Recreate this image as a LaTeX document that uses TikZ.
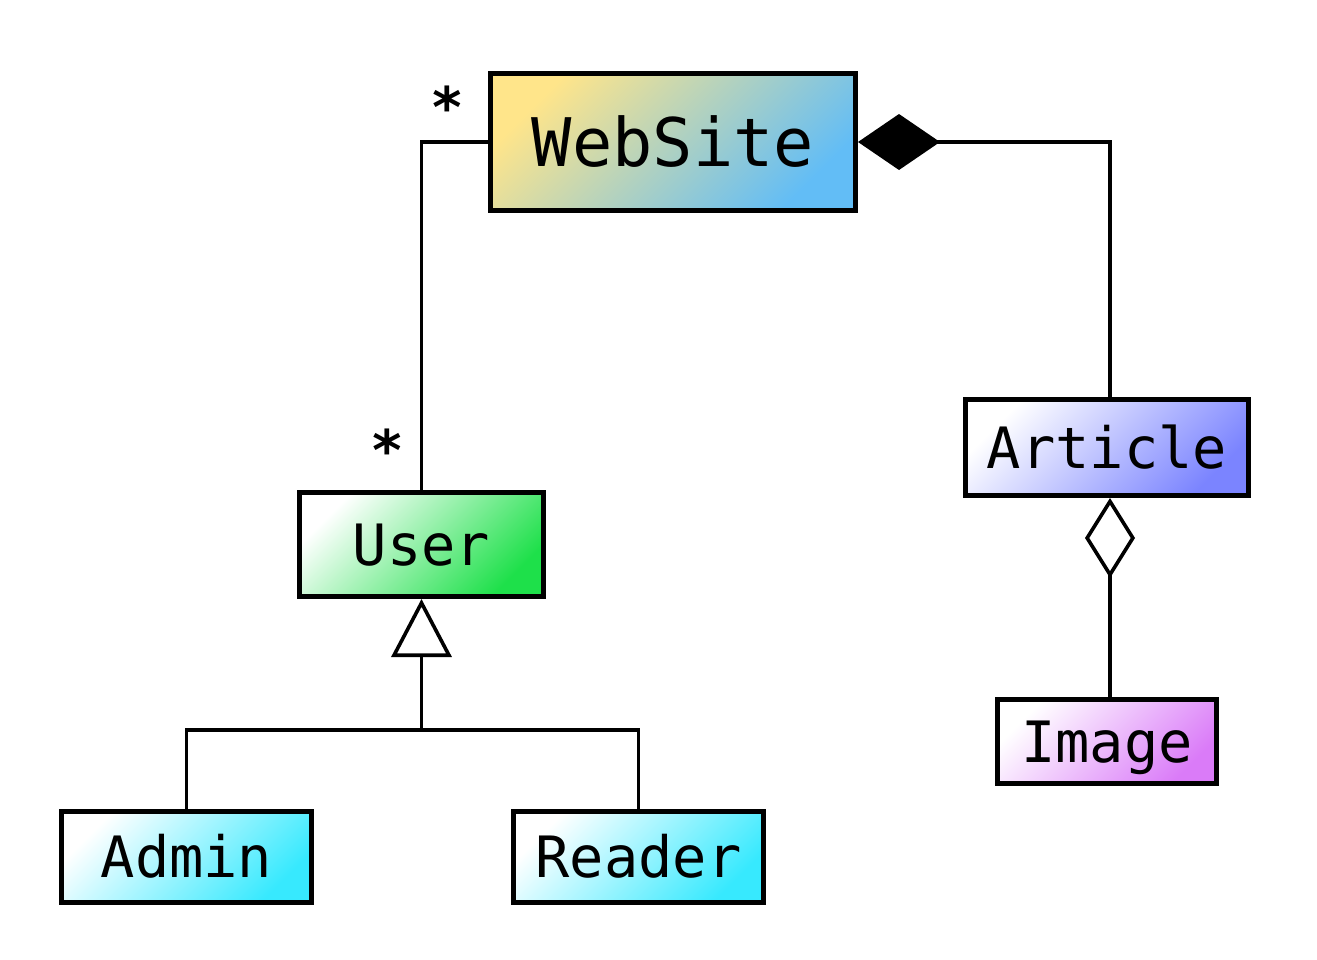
\documentclass[tikz,border=0pt]{standalone}
\usepackage{fontspec}
\newfontfamily\dvm{DejaVu Sans Mono}
\usetikzlibrary{arrows.meta}
\definecolor{wsA}{HTML}{FFE58A}
\definecolor{wsB}{HTML}{62BDF6}
\definecolor{usB}{HTML}{1EE04A}
\definecolor{arB}{HTML}{7B84FF}
\definecolor{imB}{HTML}{DA7BF8}
\definecolor{cyB}{HTML}{37E9FE}
\tikzset{
  cls/.style={draw=black, line width=5pt, inner sep=0pt, text height=41.6pt, text depth=0pt,
    font=\dvm\fontsize{57}{68}\selectfont},
  grad/.style 2 args={top color=#1, bottom color=#2, shading angle=45},
  conn/.style={line width=3.6pt, draw=black},
  mult/.style={font=\dvm\bfseries\fontsize{56}{68}\selectfont, inner sep=0pt},
}
\begin{document}
\begin{tikzpicture}[x=1pt,y=-1pt]
\useasboundingbox (0,0) rectangle (1317,959);
\node[cls, grad={wsA}{wsB}, minimum width=365pt, minimum height=137pt,
  font=\dvm\fontsize{67}{80}\selectfont, text height=49pt] (web) at (673,142) {WebSite};
\node[cls, grad={white}{usB}, minimum width=244pt, minimum height=104pt] (user) at (421.5,544.5) {User};
\node[cls, grad={white}{arB}, minimum width=283pt, minimum height=96pt] (art) at (1107,447.5) {Article};
\node[cls, grad={white}{imB}, minimum width=219pt, minimum height=84pt] (img) at (1107,741.5) {Image};
\node[cls, grad={white}{cyB}, minimum width=250pt, minimum height=91pt] (admin) at (186.5,857) {Admin};
\node[cls, grad={white}{cyB}, minimum width=250pt, minimum height=91pt] (reader) at (638.5,857) {Reader};
% association
\draw[conn] (web.west) -| (user.north);
\node[mult] (m1) at (447,107) {*};
\node[mult] (m2) at (387,450) {*};
% composition
\draw[conn, {Diamond[length=82pt, width=56pt]}-] (web.east) -| ([xshift=3pt]art.north);
% aggregation
\draw[conn, {Diamond[open, length=80pt, width=50pt]}-] ([xshift=3pt]art.south) -- ([xshift=3pt]img.north);
% generalization
\draw[conn, {Triangle[open, length=58pt, width=60pt]}-] (user.south) -- ++(0,131) coordinate (j);
\draw[conn] (j) -| (admin.north);
\draw[conn] (j) -| (reader.north);
\end{tikzpicture}
\end{document}
